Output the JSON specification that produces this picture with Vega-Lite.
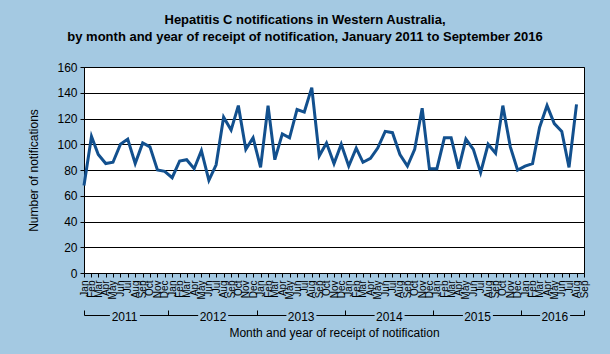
{
  "$schema": "https://vega.github.io/schema/vega-lite/v6.json",
  "autosize": "none",
  "width": 500,
  "height": 206,
  "padding": {"left": 84, "top": 67, "right": 26, "bottom": 81},
  "background": "#A4C9E2",
  "config": {
    "view": {"stroke": "#000000", "strokeWidth": 1, "fill": "#ffffff"},
    "font": "Liberation Sans",
    "axis": {"labelColor": "#000000", "titleColor": "#000000", "domainColor": "#000000", "tickColor": "#000000", "labelFont": "Liberation Sans", "titleFont": "Liberation Sans", "titleFontWeight": "normal"}
  },
  "title": {
    "text": ["Hepatitis C notifications in Western Australia,", "by month and year of receipt of notification, January 2011 to September 2016"],
    "font": "Liberation Sans", "fontSize": 13, "fontWeight": "bold", "color": "#000000",
    "anchor": "middle", "dx": -29, "offset": 17, "lineHeight": 17
  },
  "resolve": {"scale": {"x": "shared"}, "axis": {"x": "independent"}},
  "layer": [
    {
      "data": {"values": [
        {"month": "2011-01-01", "count": 68}, {"month": "2011-02-01", "count": 106}, {"month": "2011-03-01", "count": 92}, {"month": "2011-04-01", "count": 85}, {"month": "2011-05-01", "count": 86}, {"month": "2011-06-01", "count": 100}, {"month": "2011-07-01", "count": 104}, {"month": "2011-08-01", "count": 85}, {"month": "2011-09-01", "count": 101}, {"month": "2011-10-01", "count": 98}, {"month": "2011-11-01", "count": 80}, {"month": "2011-12-01", "count": 79},
        {"month": "2012-01-01", "count": 74}, {"month": "2012-02-01", "count": 87}, {"month": "2012-03-01", "count": 88}, {"month": "2012-04-01", "count": 81}, {"month": "2012-05-01", "count": 95}, {"month": "2012-06-01", "count": 72}, {"month": "2012-07-01", "count": 84}, {"month": "2012-08-01", "count": 121}, {"month": "2012-09-01", "count": 111}, {"month": "2012-10-01", "count": 130}, {"month": "2012-11-01", "count": 96}, {"month": "2012-12-01", "count": 105},
        {"month": "2013-01-01", "count": 82}, {"month": "2013-02-01", "count": 130}, {"month": "2013-03-01", "count": 88}, {"month": "2013-04-01", "count": 108}, {"month": "2013-05-01", "count": 105}, {"month": "2013-06-01", "count": 127}, {"month": "2013-07-01", "count": 125}, {"month": "2013-08-01", "count": 144}, {"month": "2013-09-01", "count": 91}, {"month": "2013-10-01", "count": 101}, {"month": "2013-11-01", "count": 85}, {"month": "2013-12-01", "count": 100},
        {"month": "2014-01-01", "count": 83}, {"month": "2014-02-01", "count": 97}, {"month": "2014-03-01", "count": 86}, {"month": "2014-04-01", "count": 89}, {"month": "2014-05-01", "count": 97}, {"month": "2014-06-01", "count": 110}, {"month": "2014-07-01", "count": 109}, {"month": "2014-08-01", "count": 92}, {"month": "2014-09-01", "count": 83}, {"month": "2014-10-01", "count": 96}, {"month": "2014-11-01", "count": 128}, {"month": "2014-12-01", "count": 81},
        {"month": "2015-01-01", "count": 81}, {"month": "2015-02-01", "count": 105}, {"month": "2015-03-01", "count": 105}, {"month": "2015-04-01", "count": 81}, {"month": "2015-05-01", "count": 104}, {"month": "2015-06-01", "count": 96}, {"month": "2015-07-01", "count": 78}, {"month": "2015-08-01", "count": 100}, {"month": "2015-09-01", "count": 93}, {"month": "2015-10-01", "count": 130}, {"month": "2015-11-01", "count": 98}, {"month": "2015-12-01", "count": 80},
        {"month": "2016-01-01", "count": 83}, {"month": "2016-02-01", "count": 85}, {"month": "2016-03-01", "count": 113}, {"month": "2016-04-01", "count": 130}, {"month": "2016-05-01", "count": 116}, {"month": "2016-06-01", "count": 110}, {"month": "2016-07-01", "count": 82}, {"month": "2016-08-01", "count": 131}
      ]},
      "mark": {"type": "line", "color": "#12508E", "strokeWidth": 3},
      "encoding": {
        "x": {
          "field": "month", "type": "temporal",
          "scale": {"type": "utc", "nice": false, "domain": [{"year": 2011, "month": 1, "date": 1, "utc": true}, {"year": 2016, "month": 9, "date": 1, "utc": true}]},
          "axis": {"orient": "bottom", "format": "%b", "tickCount": {"interval": "month", "step": 1}, "labelAngle": 270, "labelFontSize": 10, "labelPadding": 3, "tickSize": 4, "labelOverlap": false, "labelFlush": false, "grid": false, "title": null}
        },
        "y": {
          "field": "count", "type": "quantitative",
          "scale": {"domain": [0, 160], "nice": false},
          "axis": {"values": [0, 20, 40, 60, 80, 100, 120, 140, 160], "grid": true, "gridColor": "#000000", "gridOpacity": 1, "tickSize": 4, "labelFontSize": 12, "labelPadding": 3, "title": "Number of notifications", "titleFontSize": 12, "titlePadding": 16}
        }
      }
    },
    {
      "data": {"values": [{"year": "2011-06-16"}, {"year": "2012-06-16"}, {"year": "2013-06-16"}, {"year": "2014-06-16"}, {"year": "2015-06-16"}, {"year": "2016-05-01"}]},
      "mark": {"type": "rule", "opacity": 0},
      "encoding": {
        "x": {
          "field": "year", "type": "temporal",
          "scale": {"type": "utc", "nice": false, "domain": [{"year": 2011, "month": 1, "date": 1, "utc": true}, {"year": 2016, "month": 9, "date": 1, "utc": true}]},
          "axis": {"orient": "bottom", "offset": 42, "values": [
            {"year": 2011, "month": 6, "date": 16, "utc": true},
            {"year": 2012, "month": 6, "date": 16, "utc": true},
            {"year": 2013, "month": 6, "date": 16, "utc": true},
            {"year": 2014, "month": 6, "date": 16, "utc": true},
            {"year": 2015, "month": 6, "date": 16, "utc": true},
            {"year": 2016, "month": 5, "date": 1, "utc": true}
          ], "format": "%Y", "domain": false, "ticks": false, "labelPadding": 1, "labelBaseline": "middle", "labelFontSize": 12, "labelFlush": false, "grid": false,
          "title": "Month and year of receipt of notification", "titleFontSize": 12, "titlePadding": 5}
        }
      }
    },
    {
      "data": {"values": [{"boundary": "2011-01-01"}, {"boundary": "2011-12-16T12:00:00Z"}, {"boundary": "2012-12-16T12:00:00Z"}, {"boundary": "2013-12-16T12:00:00Z"}, {"boundary": "2014-12-16T12:00:00Z"}, {"boundary": "2015-12-16T12:00:00Z"}, {"boundary": "2016-09-01"}]},
      "mark": {"type": "rule", "opacity": 0},
      "encoding": {
        "x": {
          "field": "boundary", "type": "temporal",
          "scale": {"type": "utc", "nice": false, "domain": [{"year": 2011, "month": 1, "date": 1, "utc": true}, {"year": 2016, "month": 9, "date": 1, "utc": true}]},
          "axis": {"orient": "bottom", "offset": 37, "values": [
            {"year": 2011, "month": 1, "date": 1, "utc": true},
            {"year": 2011, "month": 12, "date": 16, "hours": 12, "utc": true},
            {"year": 2012, "month": 12, "date": 16, "hours": 12, "utc": true},
            {"year": 2013, "month": 12, "date": 16, "hours": 12, "utc": true},
            {"year": 2014, "month": 12, "date": 16, "hours": 12, "utc": true},
            {"year": 2015, "month": 12, "date": 16, "hours": 12, "utc": true},
            {"year": 2016, "month": 9, "date": 1, "utc": true}
          ], "ticks": true, "tickSize": 5, "tickWidth": 1, "tickColor": "#000000", "domain": false, "labels": false, "grid": false, "title": null}
        }
      }
    },
    {
      "data": {"values": [{"boundary": "2011-01-01"}, {"boundary": "2016-09-01"}]},
      "mark": {"type": "rule", "opacity": 0},
      "encoding": {
        "x": {
          "field": "boundary", "type": "temporal",
          "scale": {"type": "utc", "nice": false, "domain": [{"year": 2011, "month": 1, "date": 1, "utc": true}, {"year": 2016, "month": 9, "date": 1, "utc": true}]},
          "axis": {"orient": "bottom", "offset": 42, "values": [], "ticks": false, "domain": true, "domainColor": "#000000", "domainWidth": 1,
            "domainDash": [25.4, 30, 58.3, 30, 58.2, 30, 58.2, 30, 58.3, 30, 47.2, 30, 30, 100],
            "labels": false, "grid": false, "title": null}
        }
      }
    }
  ]
}
